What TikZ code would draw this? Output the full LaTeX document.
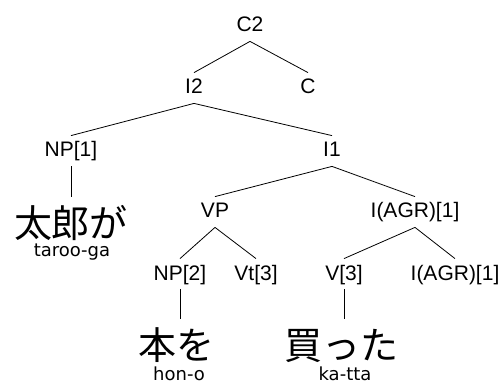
\documentclass[tikz,border=0pt]{standalone}
\usepackage{fontspec}
\setmainfont{Liberation Sans}
\newfontfamily\jpfont{Noto Sans CJK JP}
\newfontfamily\glfont{DejaVu Sans}
\tikzset{
  cat/.style={anchor=base, inner xsep=0pt, inner ysep=6pt, text height=15pt, text depth=3pt, font=\fontsize{21}{21}\selectfont},
  jp/.style={anchor=base, inner xsep=0pt, inner ysep=6pt, text height=34pt, text depth=0pt, font=\jpfont\fontsize{38}{38}\selectfont},
  gl/.style={anchor=base, inner sep=0pt, font=\glfont\fontsize{18}{18}\selectfont}
}
\begin{document}
\begin{tikzpicture}[x=1pt, y=-1pt, line width=0.8pt]
\useasboundingbox (0,0) rectangle (504,385);
\node[cat] (c2) at (250,32){C2};
\node[cat] (i2) at (194,94){I2};
\node[cat] (c) at (308,94){C};
\draw[](c2.south) -- (i2.north);
\draw[](c2.south) -- (c.north);
\node[cat] (np1) at (71,157){NP[1]};
\node[cat] (i1) at (332,157){I1};
\draw[](i2.south) -- (np1.north);
\draw[](i2.south) -- (i1.north);
\node[jp] (taro) at (71,237){太郎が};
\node[gl] (taroga) at (72,257){taroo-ga};
\draw[](np1.south) -- (taro.north);
\node[cat] (vp) at (215,218){VP};
\node[cat] (agr1) at (415,218){I(AGR)[1]};
\draw[](i1.south) -- (vp.north);
\draw[](i1.south) -- (agr1.north);
\node[cat] (np2) at (180,280){NP[2]};
\node[cat] (vt) at (256,280){Vt[3]};
\draw[](vp.south) -- (np2.north);
\draw[](vp.south) -- (vt.north);
\node[cat] (v) at (344,280){V[3]};
\node[cat] (agr2) at (455,280){I(AGR)[1]};
\draw[](agr1.south) -- (v.north);
\draw[](agr1.south) -- (agr2.north);
\node[jp] (hon) at (176,359){本を};
\node[gl] (hono) at (179,380){hon-o};
\draw[](np2.south) -- (np2.south |- hon.north);
\node[jp] (katta) at (341,359){買った};
\node[gl] (kattagl) at (345,380){ka-tta};
\draw[](v.south) -- (v.south |- katta.north);
\end{tikzpicture}
\end{document}
